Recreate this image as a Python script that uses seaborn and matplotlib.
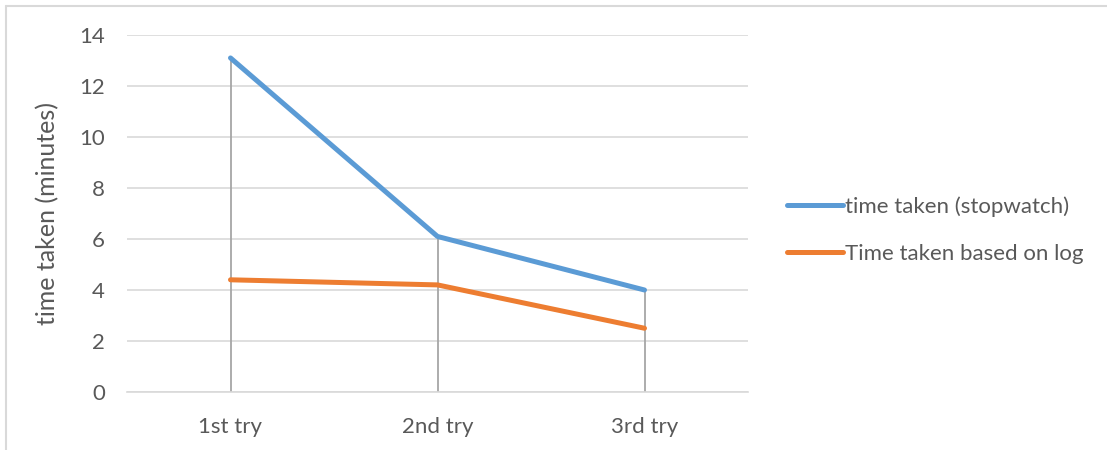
import matplotlib
matplotlib.use("Agg")
import matplotlib.pyplot as plt
from matplotlib.lines import Line2D
import seaborn as sns
import pandas as pd

tries = ["1st try", "2nd try", "3rd try"]
stopwatch = [13.1, 6.1, 4.0]
log_based = [4.4, 4.2, 2.5]
series_names = ["time taken (stopwatch)", "Time taken based on log"]
colors = ["#5B9BD5", "#ED7D31"]
yticks = [0, 2, 4, 6, 8, 10, 12, 14]

df = pd.DataFrame({
    "try": tries * 2,
    "minutes": stopwatch + log_based,
    "series": [series_names[0]] * 3 + [series_names[1]] * 3,
})

sns.set_theme(style="white")
plt.rcParams["font.family"] = ["Lato", "DejaVu Sans"]
text_color = "#595959"

fig = plt.figure(figsize=(11.07, 4.5), dpi=100)
ax = fig.add_axes([127 / 1107, 1 - 392 / 450, (748 - 127) / 1107, (392 - 35) / 450])

# drop lines from the axis up to the highest series at each category
tops = [max(a, b) for a, b in zip(stopwatch, log_based)]
ax.vlines(tries, 0, tops, color="#a6a6a6", linewidth=1.3, zorder=1)

sns.lineplot(data=df, x="try", y="minutes", hue="series", palette=colors,
             linewidth=3.6, sort=False, ax=ax, zorder=3,
             legend=False)
for ln in ax.lines:
    ln.set_solid_capstyle("round")
    ln.set_solid_joinstyle("round")

ax.set_xlim(-0.5, 2.5)
ax.set_ylim(0, 14)
ax.set_yticks(yticks)
ax.yaxis.grid(True, color="#d9d9d9", linewidth=1.2, zorder=0)
ax.xaxis.grid(False)
for side in ["top", "right", "left"]:
    ax.spines[side].set_visible(False)
ax.spines["bottom"].set_color("#d9d9d9")
ax.spines["bottom"].set_linewidth(1.2)
ax.tick_params(axis="both", length=0, labelsize=16, colors=text_color)
ax.tick_params(axis="x", pad=18)
ax.tick_params(axis="y", pad=16)
ax.set_xlabel("")
ax.set_ylabel("time taken (minutes)", fontsize=18, color=text_color, labelpad=14)

handles = [Line2D([0], [0], color=c, linewidth=3.6, solid_capstyle="round") for c in colors]
fig.legend(handles, series_names, loc="center left", bbox_to_anchor=(787 / 1107, 1 - 230 / 450),
           frameon=False, fontsize=16, labelcolor=text_color, handlelength=2.5,
           handletextpad=0.1, labelspacing=1.2, borderaxespad=0, borderpad=0)

# outer chart border (top and left edges)
fig.add_artist(Line2D([6 / 1107, 1.0], [1 - 6 / 450, 1 - 6 / 450], transform=fig.transFigure,
                      color="#d9d9d9", linewidth=1.5))
fig.add_artist(Line2D([6 / 1107, 6 / 1107], [0, 1 - 6 / 450], transform=fig.transFigure,
                      color="#d9d9d9", linewidth=1.5))

fig.savefig("out.png", dpi=100)
